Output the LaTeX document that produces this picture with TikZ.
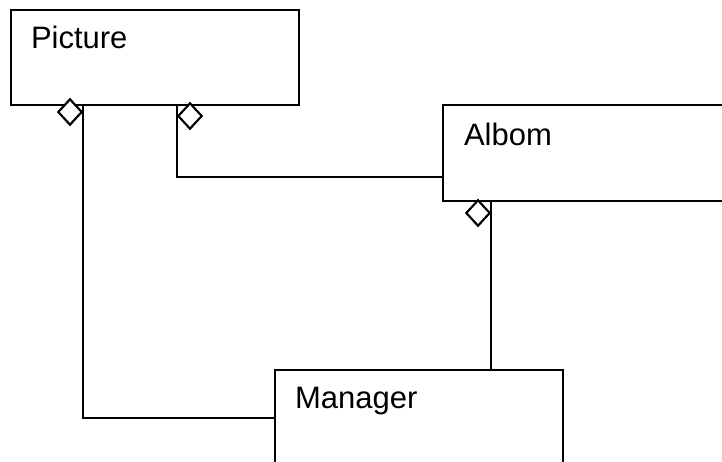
\documentclass[tikz,border=0pt]{standalone}
\usepackage{fontspec}
\setmainfont{Liberation Sans}
\usetikzlibrary{shapes.geometric}
\begin{document}
\begin{tikzpicture}[x=1pt,y=-1pt, line width=2pt,
  box/.style={draw, rectangle, minimum width=288pt, minimum height=96pt, inner sep=0pt, anchor=north west},
  lbl/.style={anchor=base west, inner sep=0pt, font=\fontsize{31}{37}\selectfont},
  agg/.style={draw, diamond, fill=white, minimum width=24pt, minimum height=26pt, inner sep=0pt},
  link/.style={draw, line width=2pt}]
\useasboundingbox (0,0) rectangle (722,461);
\clip (0,0) rectangle (722,461);
% boxes
\node[box, minimum height=95pt] (pic) at (10,9) {};
\node[box] (alb) at (442,104) {};
\node[box] (man) at (274,369) {};
% labels
\node[lbl] (picT) at (30,48) {Picture};
\node[lbl] (albT) at (463,145) {Albom};
\node[lbl] (manT) at (294,408) {Manager};
% diamond positions
\coordinate (d1c) at (70,112);
\coordinate (d2c) at (190,116);
\coordinate (d3c) at (478,213);
\coordinate (albin) at (442,177);
% diamonds
\node[agg] (d1) at (d1c) {};
\node[agg] (d2) at (d2c) {};
\node[agg] (d3) at (d3c) {};
% connectors
\path[link] (pic.south -| d1.east) |- (man.west);
\path[link] (pic.south -| d2.west) |- (albin);
\path[link] (alb.south -| d3.east) -- (man.north -| d3.east);
% redraw diamonds on top
\node[agg] (d1b) at (d1c) {};
\node[agg] (d2b) at (d2c) {};
\node[agg] (d3b) at (d3c) {};
\end{tikzpicture}
\end{document}
